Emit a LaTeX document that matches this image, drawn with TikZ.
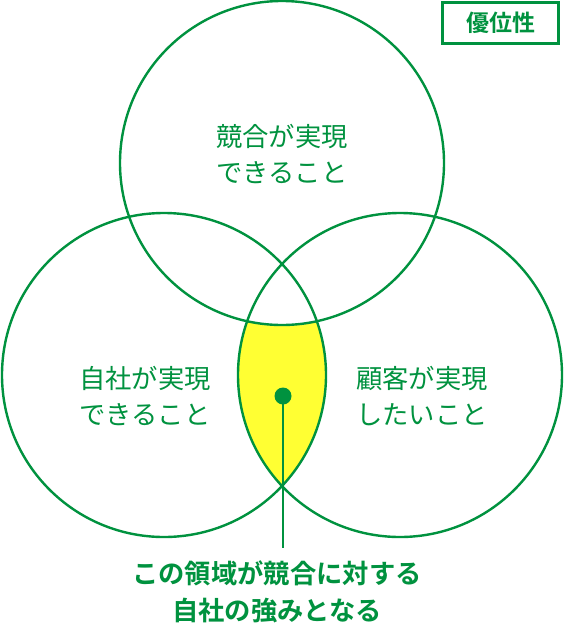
\documentclass[tikz,border=0pt]{standalone}
\usepackage{fontspec}
\newfontfamily\cjk{Noto Sans CJK JP}[BoldFont={Noto Sans CJK JP Bold}]
\definecolor{vgreen}{HTML}{00923F}
\definecolor{vyellow}{HTML}{FFFF33}
\begin{document}
\begin{tikzpicture}[x=1pt,y=-1pt,
  ring/.style={draw=vgreen,line width=2.4pt},
  lbl/.style={text=vgreen,font=\cjk\fontsize{26.3}{36}\selectfont,align=center,inner sep=0pt},
  biglbl/.style={text=vgreen,font=\cjk\bfseries\fontsize{26.3}{37}\selectfont,align=center,inner sep=0pt},
  tagbox/.style={draw=vgreen,line width=2.4pt,text=vgreen,font=\cjk\bfseries\fontsize{23}{24}\selectfont,minimum width=116pt,minimum height=41pt,inner sep=0pt}]
\useasboundingbox (0,0) rectangle (564,624);
\fill[white] (0,0) rectangle (564,624);
\coordinate (ct) at (282,163);
\coordinate (cl) at (164,375);
\coordinate (cr) at (400,375);
\begin{scope}
  \clip (cl) circle (162);
  \clip (cr) circle (162);
  \fill[vyellow,even odd rule] (0,0) rectangle (564,624) (ct) circle (162);
\end{scope}
\draw[ring] (ct) circle (162);
\draw[ring] (cl) circle (162);
\draw[ring] (cr) circle (162);
\node[circle,fill=vgreen,minimum size=17pt,inner sep=0pt] (dot) at (283,396) {};
\coordinate (lineend) at (283,548);
\draw[vgreen,line width=2.4pt] (dot.center) -- (lineend);
\node[lbl] (top) at (282,154) {競合が実現\\できること};
\node[lbl] (left) at (145,396) {自社が実現\\できること};
\node[lbl] (right) at (422,396) {顧客が実現\\したいこと};
\node[biglbl] (bottom) at (277,592) {この領域が競合に対する\\自社の強みとなる};
\node[tagbox] (tag) at (500.5,23) {優位性};
\end{tikzpicture}
\end{document}
